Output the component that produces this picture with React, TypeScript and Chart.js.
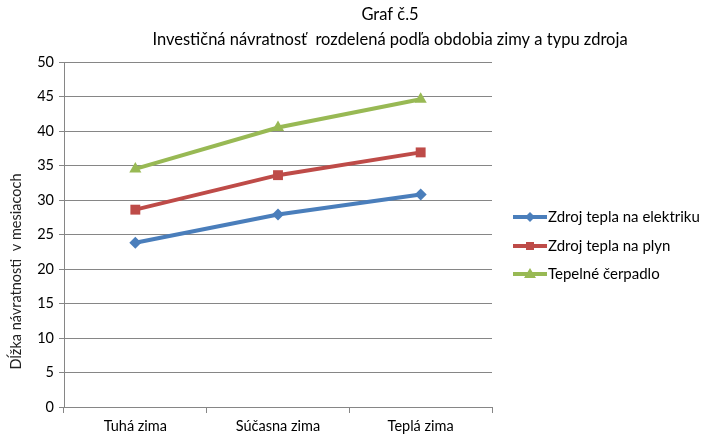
import React, { useEffect, useRef } from "react";
import { Chart, registerables } from "chart.js";

Chart.register(...registerables);

const categories = ["Tuhá zima", "Súčasna zima", "Teplá zima"];
const elektrika = [23.8, 27.9, 30.8];
const plyn = [28.6, 33.6, 36.9];
const cerpadlo = [34.5, 40.5, 44.6];
const seriesNames = ["Zdroj tepla na elektriku", "Zdroj tepla na plyn", "Tepelné čerpadlo"];
const titleLines = ["Graf č.5", "Investičná návratnosť  rozdelená podľa obdobia zimy a typu zdroja"];
const yAxisTitle = "Dĺžka návratnosti  v mesiacoch";

const FONT = "Lato, 'Open Sans', sans-serif";
const colors = ["#4A7EBB", "#BE4B48", "#98B954"];
const styles: any[] = ["rectRot", "rect", "triangle"];
const radii = [6, 7, 7];

const decorPlugin = {
  id: "decor",
  afterDraw(chart: any) {
    const ctx = chart.ctx;
    const area = chart.chartArea;
    ctx.save();
    ctx.fillStyle = "#000";
    ctx.textAlign = "center";
    ctx.textBaseline = "middle";
    ctx.font = `16.5px ${FONT}`;
    ctx.fillText(titleLines[0], 390, 15);
    ctx.fillText(titleLines[1], 390, 40);
    // y title
    ctx.save();
    ctx.translate(16, (area.top + area.bottom) / 2 + 37);
    ctx.rotate(-Math.PI / 2);
    ctx.font = `14.5px ${FONT}`;
    ctx.fillStyle = "#222";
    ctx.fillText(yAxisTitle, 0, 0);
    ctx.restore();
    // legend
    const ys = [217, 246, 274];
    chart.data.datasets.forEach((ds: any, i: number) => {
      const y = ys[i];
      ctx.strokeStyle = ds.borderColor;
      ctx.lineWidth = 4;
      ctx.beginPath();
      ctx.moveTo(513, y);
      ctx.lineTo(547, y);
      ctx.stroke();
      ctx.fillStyle = ds.borderColor;
      const cx = 530;
      ctx.beginPath();
      if (ds.pointStyle === "rectRot") {
        const r = 5;
        ctx.moveTo(cx, y - r);
        ctx.lineTo(cx + r, y);
        ctx.lineTo(cx, y + r);
        ctx.lineTo(cx - r, y);
      } else if (ds.pointStyle === "rect") {
        ctx.rect(cx - 4, y - 4, 8, 8);
      } else {
        ctx.moveTo(cx, y - 6);
        ctx.lineTo(cx + 6, y + 4);
        ctx.lineTo(cx - 6, y + 4);
      }
      ctx.closePath();
      ctx.fill();
      ctx.fillStyle = "#000";
      ctx.textAlign = "left";
      ctx.font = `15px ${FONT}`;
      ctx.fillText(ds.label, 548, y);
    });
    ctx.restore();
  },
};

export default function App() {
  const ref = useRef<HTMLCanvasElement>(null);
  useEffect(() => {
    document.body.style.margin = "0";
    const values = [elektrika, plyn, cerpadlo];
    const chart = new Chart(ref.current!, {
      type: "line",
      data: {
        labels: categories,
        datasets: values.map((v, i) => ({
          label: seriesNames[i],
          data: v,
          borderColor: colors[i],
          backgroundColor: colors[i],
          borderWidth: 4,
          pointStyle: styles[i],
          pointRadius: radii[i],
          pointBorderWidth: 0,
          pointBackgroundColor: colors[i],
          tension: 0,
        })),
      },
      options: {
        animation: false,
        responsive: false,
        devicePixelRatio: 1,
        layout: { padding: { top: 62, right: 220, left: 0, bottom: 0 } },
        plugins: { legend: { display: false }, title: { display: false }, tooltip: { enabled: false } },
        scales: {
          x: {
            offset: true,
            grid: { offset: true, drawOnChartArea: false, drawTicks: true, tickLength: 6, color: "#868686" },
            border: { color: "#868686" },
            ticks: { color: "#000", font: { family: FONT, size: 14.5 }, padding: 5 },
            afterFit: (s: any) => { s.height = 39; },
          },
          y: {
            min: 0,
            max: 50,
            ticks: { stepSize: 5, color: "#000", font: { family: FONT, size: 14.5 }, padding: 5 },
            grid: { color: "#868686", tickLength: 5 },
            border: { color: "#868686" },
            afterFit: (s: any) => { s.width = 64; },
          },
        },
      },
      plugins: [decorPlugin],
    });
    return () => chart.destroy();
  }, []);
  return <canvas ref={ref} width={712} height={446} style={{ display: "block" }} />;
}
